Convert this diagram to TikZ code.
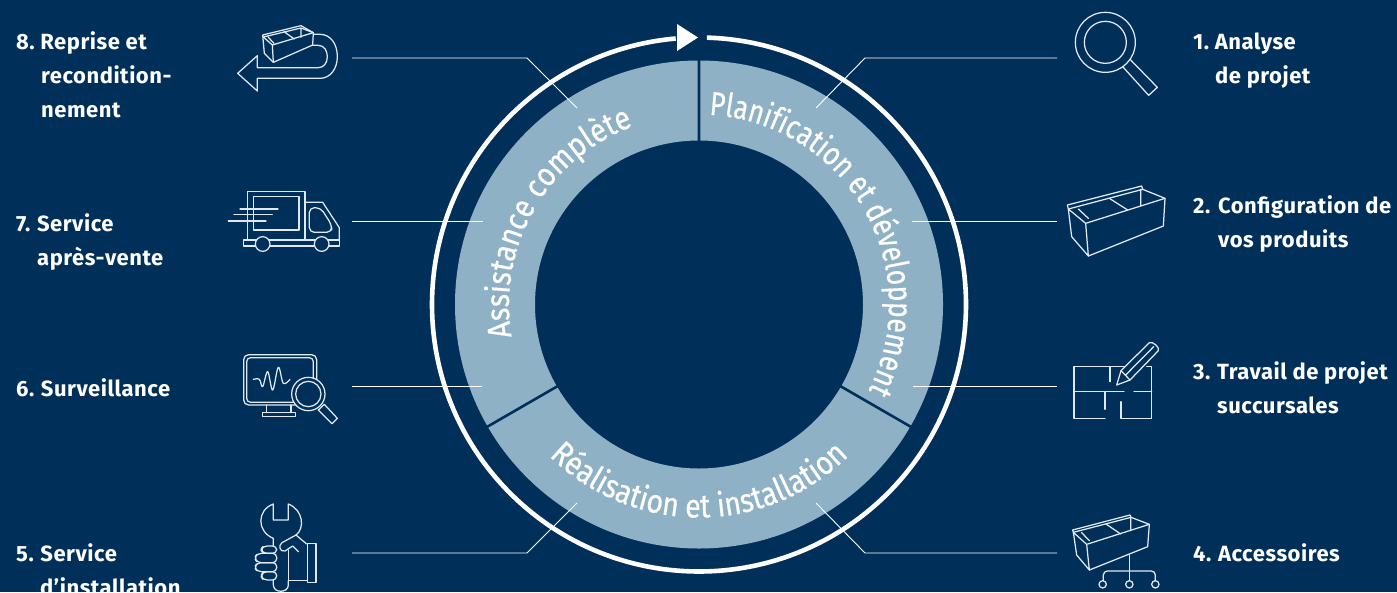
\documentclass[tikz,border=0pt]{standalone}
\usepackage{fontspec}
\setmainfont[LetterSpace=2.4]{Fira Sans}
\newfontfamily\ringfont[FakeStretch=0.86,FakeBold=0.5]{Fira Sans}
\newfontfamily\ringfontn[FakeStretch=0.80,FakeBold=0.5]{Fira Sans}
\usetikzlibrary{decorations.text}
\definecolor{bg}{RGB}{0,48,90}
\definecolor{ringc}{RGB}{143,177,197}
\definecolor{linec}{RGB}{225,232,238}
\tikzset{
  lab/.style={anchor=base west,inner sep=0pt,text=white,font=\fontsize{22}{26}\selectfont\bfseries},
  conn/.style={draw=white,line width=0.9pt},
  icon/.style={draw=linec,line width=1.25pt,line join=round,line cap=round},
  zoomed/.style={x=0.33333pt,y=-0.33333pt},
  ringtext/.style={decorate,decoration={text along path,text align=center,text color=white}}
}
\newcommand{\rtext}{\fontsize{33}{36}\selectfont\ringfont}
\newcommand{\rtextn}{\fontsize{33}{36}\selectfont\ringfontn}
\begin{document}
\begin{tikzpicture}[x=1pt,y=-1pt]
\useasboundingbox (0,0) rectangle (1397,592);
\fill[bg] (0,0) rectangle (1397,592);
% ring
\begin{scope}[shift={(699,304.5)},x=1pt,y=1pt]
  \fill[ringc,even odd rule] (0,0) circle[radius=244] (0,0) circle[radius=164];
  \draw[bg,line width=2.6pt] (90:163) -- (90:245) (-30:163) -- (-30:245) (210:163) -- (210:245);
  \draw[white,line width=4.6pt] (88.3:267) arc[start angle=88.3,end angle=-265,radius=267];
  \path[ringtext,decoration={text={|\rtextn|Planification et développement}}] (90:190) arc[start angle=90,end angle=-30,radius=190];
  \path[ringtext,decoration={text={|\rtext|Assistance complète}}] (210:190) arc[start angle=210,end angle=90,radius=190];
  \path[ringtext,decoration={text={|\rtext|Réalisation et installation}}] (210:213) arc[start angle=210,end angle=330,radius=213];
\end{scope}
\fill[white] (677,24) -- (698,37.5) -- (677,51) -- cycle;
% labels
\node[lab] (l8a) at (16,49) {8.\hspace{-2pt} Reprise et};
\node[lab] (l8b) at (41,83) {recondition-};
\node[lab] (l8c) at (41,117) {nement};
\node[lab] (l7a) at (16,231) {7.\hspace{-1pt} Service};
\node[lab] (l7b) at (37,265) {après-vente};
\node[lab] (l6a) at (16,396) {6.\hspace{-1pt} Surveillance};
\node[lab] (l5a) at (16,561) {5.\hspace{-1pt} Service};
\node[lab] (l5b) at (40,595) {d’installation};
\node[lab] (l1a) at (1193,49) {1.\hspace{-2pt} Analyse};
\node[lab] (l1b) at (1215,83) {de projet};
\node[lab] (l2a) at (1193,213) {2. Configuration de};
\node[lab] (l2b) at (1218,247) {vos produits};
\node[lab] (l3a) at (1193,379) {3.\hspace{-1pt} Travail de projet};
\node[lab] (l3b) at (1217,413) {succursales};
\node[lab] (l4a) at (1193,561) {4.\hspace{-1pt} Accessoires};
% connector ends
\coordinate (c8a) at (352,58); \coordinate (c8b) at (527,58); \coordinate (c8c) at (577,108);
\coordinate (c7a) at (352,221); \coordinate (c7b) at (483,221);
\coordinate (c6a) at (352,386); \coordinate (c6b) at (482,386);
\coordinate (c5a) at (352,553); \coordinate (c5b) at (527,553); \coordinate (c5c) at (577,503);
\coordinate (c1a) at (1057,58); \coordinate (c1b) at (865,58); \coordinate (c1c) at (816,108);
\coordinate (c2a) at (1057,221); \coordinate (c2b) at (912,221);
\coordinate (c3a) at (1057,386); \coordinate (c3b) at (913,386);
\coordinate (c4a) at (1057,553); \coordinate (c4b) at (865,553); \coordinate (c4c) at (816,503);
\draw[conn] (c8a) -- (c8b) -- (c8c);
\draw[conn] (c7a) -- (c7b);
\draw[conn] (c6a) -- (c6b);
\draw[conn] (c5a) -- (c5b) -- (c5c);
\draw[conn] (c1a) -- (c1b) -- (c1c);
\draw[conn] (c2a) -- (c2b);
\draw[conn] (c3a) -- (c3b);
\draw[conn] (c4a) -- (c4b) -- (c4c);
% icon 8: return
\begin{scope}[shift={(200,0)},zoomed,icon]
  \draw (340,136) -- (355,136) .. controls (372,136) and (382,152) .. (382,170) .. controls (382,188) and (372,203) .. (355,203) -- (172,203) -- (172,167) -- (113,220) -- (172,273) -- (172,235) -- (360,235) .. controls (392,235) and (412,205) .. (412,170) .. controls (412,132) and (392,103) .. (360,103) -- (340,103);
  \draw (188,105) -- (303,77) -- (340,98) -- (338,135) -- (220,187) -- (193,160) -- cycle;
  \draw (190,111) -- (217,135) -- (340,98) (217,135) -- (220,187);
  \draw (190,111) -- (303,84) -- (340,98) (303,84) -- (303,112) (252,95) -- (283,117) (205,112) -- (222,130);
\end{scope}
% icon 7: truck
\begin{scope}[shift={(200,170)},zoomed,icon]
  \draw (143,210) -- (143,65) -- (315,65) -- (315,210);
  \draw (160,80) rectangle (297,180);
  \draw (315,97) -- (368,97) -- (418,173) -- (418,210);
  \draw (131,210) rectangle (418,228);
  \draw[fill=bg] (188,222) circle[radius=22] (365,222) circle[radius=22];
  \draw[rounded corners=5pt] (328,113) -- (362,113) -- (395,165) -- (395,187) -- (328,187) -- cycle;
  \draw (120,117) -- (234,117) (102,134) -- (217,134) (85,153) -- (198,153);
\end{scope}
% icon 6: monitor
\begin{scope}[shift={(200,340)},zoomed,icon]
  \draw[rounded corners=5pt] (131,44) rectangle (350,195);
  \draw[rounded corners=4pt] (140,53) rectangle (340,187);
  \draw (200,195) -- (200,218) (273,195) -- (273,218);
  \draw (188,218) rectangle (287,229);
  \draw plot[smooth,tension=0.6] coordinates {(160,118) (178,118) (188,140) (203,95) (218,150) (235,82) (250,130) (270,118)};
  \draw[fill=bg] (325,162) circle[radius=50];
  \draw (325,162) circle[radius=38];
  \draw (355,210) -- (373,193) -- (412,235) -- (396,251) -- cycle;
\end{scope}
% icon 5: wrench
\begin{scope}[shift={(220,490)},zoomed,icon]
  \draw (160,168) -- (160,145) .. controls (110,125) and (110,60) .. (160,42) -- (160,90) -- (205,90) -- (205,42) .. controls (250,60) and (255,115) .. (228,135);
  \draw (260,162) -- (228,135) -- (186,158) .. controls (175,165) and (178,187) .. (195,183) -- (218,168) -- (235,185);
  \draw (205,180) -- (205,272) -- (262,272);
  \draw (262,160) rectangle (288,278);
  \draw[rounded corners=4pt] (170,168) -- (130,168) -- (122,179) -- (130,190) -- (170,190) -- cycle;
  \draw[rounded corners=4pt] (170,190) -- (112,190) -- (103,204) -- (112,218) -- (170,218) -- cycle;
  \draw[rounded corners=4pt] (170,218) -- (112,218) -- (103,232) -- (112,245) -- (170,245) -- cycle;
  \draw[rounded corners=4pt] (170,245) -- (130,245) -- (122,258) -- (130,270) -- (170,270) -- cycle;
  \draw (160,270) -- (160,285) .. controls (160,310) and (205,310) .. (205,285) -- (205,272);
\end{scope}
% icon 1: magnifier
\begin{scope}[shift={(1050,0)},zoomed,icon]
  \draw (166,127) circle[radius=90] (166,127) circle[radius=63];
  \draw (218,200) -- (296,286) -- (322,262) -- (240,178);
\end{scope}
% icon 2: box
\begin{scope}[shift={(1050,170)},zoomed,icon]
  \draw (52,105) -- (275,48) -- (278,58) -- (55,117) -- cycle;
  \draw (278,58) -- (345,85) -- (107,160) -- (55,117) -- (65,200) -- (115,258) -- (107,160);
  \draw (115,258) -- (340,168) -- (345,85);
  \draw (272,58) -- (272,108) (178,85) -- (233,120) (85,117) -- (115,145);
\end{scope}
% icon 3: plan
\begin{scope}[shift={(1050,330)},zoomed,icon]
  \draw (222,110) -- (72,110) -- (72,265) -- (165,265);
  \draw (290,110) -- (305,110) -- (305,265) -- (213,265) -- (213,215);
  \draw (72,185) -- (222,185) (252,185) -- (305,185) (180,110) -- (180,155) (165,185) -- (165,238);
  \draw (200,165) -- (213,122) -- (298,38) .. controls (308,33) and (330,52) .. (325,62) -- (240,150) -- cycle;
  \draw (213,122) -- (240,150) (226,136) -- (311,50);
\end{scope}
% icon 4: accessories
\begin{scope}[shift={(1050,500)},zoomed,icon]
  \draw (68,90) -- (240,45) -- (243,52) -- (70,97) -- cycle;
  \draw (243,52) -- (298,73) -- (110,133) -- (70,97) -- (80,165) -- (118,210) -- (110,133);
  \draw (118,210) -- (293,140) -- (298,73);
  \draw (242,52) -- (242,92) (168,72) -- (212,102) (95,98) -- (118,122);
  \draw (238,165) -- (238,242);
  \draw[rounded corners=4pt] (160,242) -- (160,213) -- (316,213) -- (316,242);
  \draw (158,253) circle[radius=11] (238,253) circle[radius=11] (316,253) circle[radius=11];
\end{scope}
\end{tikzpicture}
\end{document}
